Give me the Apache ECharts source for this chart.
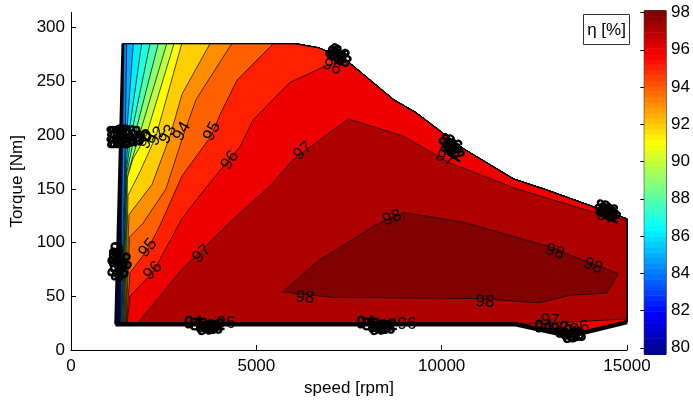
<!DOCTYPE html>
<html>
<head>
<meta charset="utf-8">
<style>
  html, body { margin: 0; padding: 0; background: #fff; }
  #chart { width: 693px; height: 402px; }
</style>
<script src="https://cdn.jsdelivr.net/npm/echarts@6/dist/echarts.min.js"></script>
</head>
<body>
<div id="chart"></div>
<script>
// efficiency map of the drive, eta in %
const cMin = 79.65
const cMax = 98.1
const colorbarTicks = [80, 82, 84, 86, 88, 90, 92, 94, 96, 98]
const speedTicks = [0, 5000, 10000, 15000]
const torqueTicks = [0, 50, 100, 150, 200, 250, 300]

// operating area outline [speed rpm, torque Nm]
const topEdge = [[1395, 285], [6050, 285], [6700, 281], [7450, 269], [8700, 233], [9300, 221],
  [10600, 187], [11950, 159], [12750, 150], [15000, 122]]
const bottomEdge = [[1201, 24], [12000, 24], [13450, 13], [15000, 26]]

// iso-efficiency lines, from the upper edge down to the lower left corner
const contour80 = [[1400, 285], [1255, 24]]
const contour81 = [[1406, 285], [1282, 24]]
const contour82 = [[1411, 285], [1303, 24]]
const contour83 = [[1416, 285], [1322, 24]]
const contour84 = [[1425, 285], [1336, 24]]
const contour85 = [[1503, 285], [1462, 199], [1452, 178], [1349, 24]]
const contour86 = [[1681, 285], [1497, 199], [1470, 173], [1371, 24]]
const contour87 = [[1907, 285], [1551, 199], [1484, 170], [1389, 24]]
const contour88 = [[2131, 285], [1619, 199], [1497, 168], [1403, 24]]
const contour89 = [[2355, 285], [1713, 199], [1511, 166], [1416, 24]]
const contour90 = [[2582, 285], [1835, 199], [1565, 168], [1430, 24]]
const contour91 = [[2779, 285], [2024, 199], [1673, 178], [1524, 161], [1443, 24]]
const contour92 = [[2987, 285], [2293, 199], [1862, 166], [1538, 144], [1457, 24]]
const contour93 = [[3750, 285], [2995, 238], [2671, 199], [2185, 154], [1565, 126], [1470, 24]]
const contour94 = [[4336, 285], [3373, 233], [3022, 199], [2563, 150], [1943, 118], [1578, 105], [1484, 24]]
const contour95 = [[5458, 285], [4479, 251], [4020, 219], [3777, 199], [2995, 162], [2401, 116],
  [2077, 94], [1592, 72], [1497, 24]]
const contour96 = [[7430, 270], [6853, 264], [5909, 249], [4910, 214], [4560, 189], [4236, 176],
  [3615, 150], [2987, 122], [2220, 73], [1592, 50], [1511, 24]]
// closed areas above 97 % and 98 %
const region97 = [[1773, 24], [2987, 75], [4471, 125], [4829, 136], [5369, 152.5], [5998, 177.5],
  [7482, 215], [8966, 199], [10226, 174], [12025, 150], [13822, 131], [15000, 120.5],
  [15000, 29], [12650, 24.5], [12000, 24]]
const region98 = [[5701, 54], [6672, 83], [8248, 117], [8966, 128], [10584, 119], [12923, 96],
  [14766, 71], [14453, 53], [13463, 51], [12608, 44], [10946, 48], [9057, 48.5], [7077, 49]]

const contourLevels = [80, 81, 82, 83, 84, 85, 86, 87, 88, 89, 90, 91, 92, 93, 94, 95, 96]
const contourLines = [contour80, contour81, contour82, contour83, contour84, contour85, contour86,
  contour87, contour88, contour89, contour90, contour91, contour92, contour93, contour94,
  contour95, contour96]

// clabel texts [speed, torque, text, angle deg]
const contourLabels = [
  [2077, 196, '91', 60], [2320, 199, '92', 60], [2617, 200.6, '93', 60], [2995, 203.4, '94', 60],
  [3804, 203.4, '95', 62], [4290, 176.6, '96', 55], [6259, 185, '97', 40],
  [2077, 95, '95', 50], [2212, 73.8, '96', 45], [3534, 89.5, '97', 45],
  [7042, 263.6, '96', -25], [10091, 178.4, '97', -25], [14434, 123.8, '97', -20],
  [6313, 48.8, '98', -5], [8661, 122.9, '98', 20], [11170, 45, '98', -3],
  [13058, 91.4, '98', -18], [14084, 78.4, '98', -22],
  [4182, 24.7, '96', 0], [9065, 23.8, '96', 0], [12923, 27.5, '97', -5], [13733, 20, '96', 15]
]
// labels of the crowded low levels, piled up on the edges
const crowdedLabels = [
  [1200, 202.4, '80', 10], [1268, 202.4, '81', 10], [1349, 202.4, '82', 10], [1430, 201.6, '84', 10],
  [1538, 201.6, '86', 12], [1673, 200.8, '88', 15], [1200, 193.2, '80', 10], [1268, 193.2, '81', 10],
  [1376, 193.2, '83', 10], [1484, 193.2, '85', 10], [1619, 193.2, '87', 12], [1781, 196, '89', 20],
  [1943, 197, '90', 30],
  [1200, 86.8, '80', 80], [1241, 86.8, '81', 80], [1268, 79.4, '82', 80], [1295, 72, '84', 80],
  [1200, 76, '83', 80], [1430, 83, '86', 70], [1457, 75.6, '88', 70], [1240, 92, '90', 80],
  [7096, 274.6, '80', -30], [7150, 272, '82', -30], [7204, 272.8, '84', -30], [7312, 270, '88', -30],
  [7258, 275.6, '92', -30], [7180, 277, '94', -30],
  [10150, 193, '80', -35], [10226, 189.6, '84', -35], [10300, 186, '88', -35], [10360, 183, '92', -35],
  [10200, 186, '82', -35], [10290, 192, '86', -35],
  [14360, 132, '80', -25], [14434, 129.4, '84', -25], [14520, 127, '88', -25], [14580, 125, '92', -25],
  [14400, 127, '82', -25], [14500, 131, '86', -25],
  [3450, 23, '80', 0], [3600, 21.5, '84', 5], [3750, 21, '88', 5], [3900, 22.5, '92', 5],
  [3300, 24.5, '94', 0], [3650, 19, '82', 5], [3850, 19.5, '86', 5],
  [8100, 23, '80', 0], [8250, 21.5, '84', 5], [8400, 21, '88', 5], [8550, 22.5, '92', 5],
  [7950, 24.5, '94', 0], [8300, 19, '82', 5], [8500, 19.5, '86', 5],
  [13300, 17, '80', 10], [13450, 15, '84', 10], [13600, 14, '88', 10], [13200, 20, '92', 10],
  [12750, 21, '94', 0], [13500, 12, '82', 10], [13650, 12.5, '86', 10]
]

// MATLAB jet(64)
function jet(v) {
  let k = Math.floor((v - cMin) / (cMax - cMin) * 64) + 1
  k = Math.max(1, Math.min(64, k))
  const ramp = (x) => Math.max(0, Math.min(1, x))
  const r = k < 25 ? 0 : k <= 40 ? (k - 24) / 16 : k <= 55 ? 1 : (72 - k) / 16
  const g = k < 9 ? 0 : k <= 24 ? (k - 8) / 16 : k <= 39 ? 1 : k <= 55 ? (56 - k) / 16 : 0
  const b = k <= 8 ? (k + 8) / 16 : k <= 23 ? 1 : k <= 39 ? (40 - k) / 16 : 0
  return 'rgb(' + [r, g, b].map(c => Math.round(ramp(c) * 255)).join(',') + ')'
}

// close every contour line along the outline to a filled area
function areaAbove(line) {
  const first = line[0]
  const last = line[line.length - 1]
  const lower = bottomEdge.filter(p => p[0] > last[0])
  const upper = topEdge.slice().reverse().filter(p => p[0] > first[0])
  return line.concat(lower, upper)
}

const domain = [topEdge[0], bottomEdge[0]].concat(bottomEdge.slice(1), topEdge.slice(1).reverse())
const layers = [domain].concat(contourLines.map(areaAbove), [region97, region98])
const layerColors = [jet(cMin)].concat(contourLevels.map(jet), [jet(97), jet(98)])

const fontFamily = '"Liberation Sans", Arial, Helvetica, sans-serif'
const chart = echarts.init(document.getElementById('chart'), null, { renderer: 'canvas' })

function textItem(list, api, params, heavy) {
  const item = list[params.dataIndex]
  const pos = api.coord([item[0], item[1]])
  const style = {
    text: item[2],
    fill: '#000',
    font: (heavy ? '16px ' : '17px ') + fontFamily,
    align: 'center',
    verticalAlign: 'middle'
  }
  if (heavy) {
    style.stroke = '#000'
    style.lineWidth = 1.2
  }
  return { type: 'text', x: pos[0], y: pos[1], rotation: item[3] * Math.PI / 180, style: style }
}

chart.setOption({
  animation: false,
  textStyle: { fontFamily: fontFamily },
  grid: [
    { left: 71, right: 66, top: 12.5, bottom: 50.3 },
    { left: 644.3, width: 22.4, top: 10.7, bottom: 47.7, show: true, borderColor: '#000', borderWidth: 1 }
  ],
  xAxis: [
    {
      gridIndex: 0,
      type: 'value',
      min: 0,
      max: 15000,
      interval: 5000,
      name: 'speed [rpm]',
      nameLocation: 'middle',
      nameGap: 27,
      nameTextStyle: { fontSize: 17, color: '#000' },
      axisLine: { lineStyle: { color: '#000', width: 1 } },
      axisTick: { inside: true, length: 5, lineStyle: { color: '#000' }, customValues: speedTicks },
      axisLabel: { fontSize: 17, color: '#000', margin: 8, customValues: speedTicks, formatter: v => String(v) },
      splitLine: { show: false }
    },
    { gridIndex: 1, type: 'value', min: 0, max: 1, show: false }
  ],
  yAxis: [
    {
      gridIndex: 0,
      type: 'value',
      min: 0,
      max: 314,
      interval: 50,
      name: 'Torque [Nm]',
      nameLocation: 'middle',
      nameGap: 45,
      nameRotate: 90,
      nameTextStyle: { fontSize: 17, color: '#000' },
      axisLine: { show: true, lineStyle: { color: '#000', width: 1 } },
      axisTick: { show: true, inside: true, length: 5, lineStyle: { color: '#000' }, customValues: torqueTicks },
      axisLabel: { fontSize: 17, color: '#000', margin: 6, customValues: torqueTicks, formatter: v => String(v) },
      splitLine: { show: false }
    },
    {
      gridIndex: 1,
      type: 'value',
      position: 'right',
      min: cMin,
      max: cMax,
      axisLine: { show: false },
      axisTick: { show: true, inside: true, length: 4, lineStyle: { color: '#000' }, customValues: colorbarTicks },
      axisLabel: { fontSize: 17, color: '#000', margin: 5, customValues: colorbarTicks },
      splitLine: { show: false }
    }
  ],
  graphic: [
    {
      type: 'rect',
      shape: { x: 583.5, y: 14.5, width: 46, height: 30 },
      style: { fill: '#fff', stroke: '#333', lineWidth: 1 },
      z: 10
    },
    {
      type: 'text',
      x: 606.5,
      y: 30,
      style: { text: 'η [%]', font: '17px ' + fontFamily, fill: '#000', align: 'center', verticalAlign: 'middle' },
      z: 11
    }
  ],
  series: [
    {
      type: 'custom',
      xAxisIndex: 0,
      yAxisIndex: 0,
      silent: true,
      data: layers.map((l, i) => [i]),
      renderItem: (params, api) => ({
        type: 'polygon',
        shape: { points: layers[params.dataIndex].map(p => api.coord(p)) },
        style: { fill: layerColors[params.dataIndex], stroke: '#000', lineWidth: 0.7 }
      }),
      z: 2
    },
    {
      type: 'line',
      xAxisIndex: 0,
      yAxisIndex: 0,
      silent: true,
      data: bottomEdge,
      symbol: 'none',
      lineStyle: { color: '#000', width: 4.5 },
      z: 3
    },
    {
      type: 'line',
      xAxisIndex: 0,
      yAxisIndex: 0,
      silent: true,
      data: [topEdge[0], bottomEdge[0]],
      symbol: 'none',
      lineStyle: { color: '#000', width: 2.5 },
      z: 3
    },
    {
      type: 'line',
      xAxisIndex: 0,
      yAxisIndex: 0,
      silent: true,
      data: topEdge.concat([bottomEdge[bottomEdge.length - 1]]),
      symbol: 'none',
      lineStyle: { color: '#000', width: 1.3 },
      z: 3
    },
    {
      type: 'custom',
      xAxisIndex: 0,
      yAxisIndex: 0,
      silent: true,
      data: crowdedLabels.map(l => [l[0], l[1]]),
      renderItem: (params, api) => textItem(crowdedLabels, api, params, true),
      z: 4
    },
    {
      type: 'custom',
      xAxisIndex: 0,
      yAxisIndex: 0,
      silent: true,
      data: contourLabels.map(l => [l[0], l[1]]),
      renderItem: (params, api) => textItem(contourLabels, api, params, false),
      z: 5
    },
    {
      type: 'custom',
      xAxisIndex: 1,
      yAxisIndex: 1,
      silent: true,
      data: Array.from({ length: 64 }, (v, i) => [0.5, cMin + (i + 0.5) * (cMax - cMin) / 64]),
      renderItem: (params, api) => {
        const step = (cMax - cMin) / 64
        const lo = cMin + params.dataIndex * step
        const p0 = api.coord([0, lo])
        const p1 = api.coord([1, lo + step])
        return {
          type: 'rect',
          shape: { x: p0[0], y: p1[1], width: p1[0] - p0[0], height: p0[1] - p1[1] + 0.5 },
          style: { fill: jet(lo + step / 2) }
        }
      },
      z: 2
    }
  ]
})
</script>
</body>
</html>
